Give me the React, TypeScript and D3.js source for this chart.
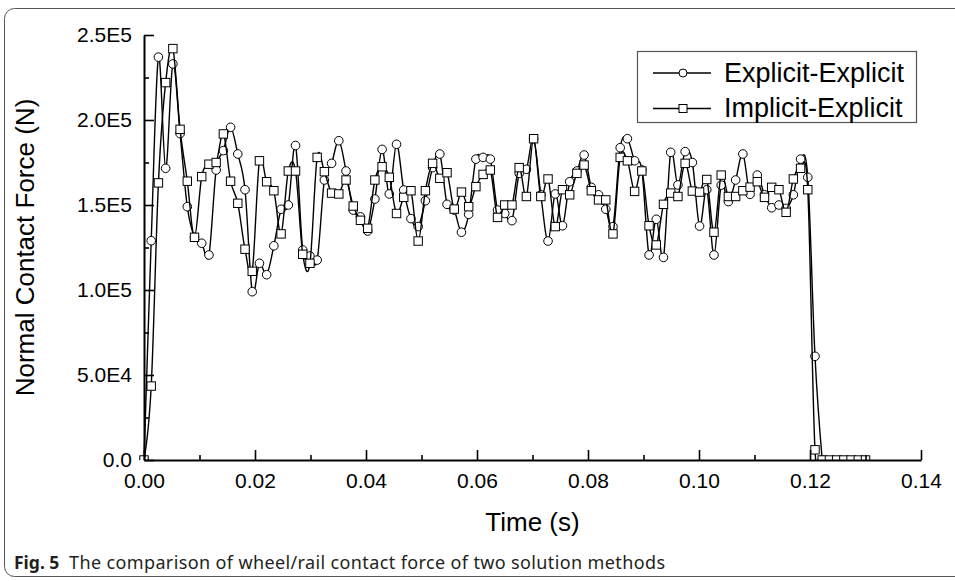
import React, { useEffect, useRef } from "react";
import * as d3 from "d3";

// sample times (s), shared by both series
const time = [
  0, 0.0013, 0.0026, 0.0039, 0.0052, 0.0065, 0.0078, 0.0091, 0.0104, 0.0117,
  0.013, 0.0143, 0.0156, 0.0169, 0.0182, 0.0195, 0.0208, 0.0221, 0.0234, 0.0247,
  0.026, 0.0273, 0.0286, 0.0299, 0.0312, 0.0325, 0.0338, 0.0351, 0.0364, 0.0377,
  0.039, 0.0403, 0.0416, 0.0429, 0.0442, 0.0455, 0.0468, 0.0481, 0.0494, 0.0507,
  0.052, 0.0533, 0.0546, 0.0559, 0.0572, 0.0585, 0.0598, 0.0611, 0.0624, 0.0637,
  0.065, 0.0663, 0.0676, 0.0689, 0.0702, 0.0715, 0.0728, 0.0741, 0.0754, 0.0767,
  0.078, 0.0793, 0.0806, 0.0819, 0.0832, 0.0845, 0.0858, 0.0871, 0.0884, 0.0897,
  0.091, 0.0923, 0.0936, 0.0949, 0.0962, 0.0975, 0.0988, 0.1001, 0.1014, 0.1027,
  0.104, 0.1053, 0.1066, 0.1079, 0.1092, 0.1105, 0.1118, 0.1131, 0.1144, 0.1157,
  0.117, 0.1183, 0.1196, 0.1209, 0.1222, 0.1235, 0.1248, 0.1261, 0.1274, 0.1287,
  0.13,
];

// Explicit-Explicit normal contact force (N)
const explicitExplicit = [
  0, 129000, 237000, 171600, 233000, 192000, 149000, 131000, 127500, 120600,
  170600, 182000, 195700, 180000, 159000, 99000, 115700, 109000, 126000, 147500,
  150000, 185000, 123500, 120000, 117600, 164700, 174500, 187800, 170000, 147000,
  143000, 134700, 153500, 182700, 156500, 185700, 158800, 142000, 137300, 152500,
  172000, 180000, 150400, 147000, 134000, 144500, 177000, 178000, 177000, 147000,
  145000, 140800, 168600, 171000, 189000, 156000, 128800, 156500, 137800, 163700,
  170000, 179400, 160400, 156000, 147500, 137300, 183700, 189000, 176000, 170600,
  120600, 141600, 119200, 181000, 161800, 181400, 175000, 137600, 159000, 120600,
  161700, 152000, 164700, 180000, 156300, 167600, 156000, 148400, 150000, 148000,
  156000, 177000, 166300, 61000, 0,
];

// Implicit-Explicit normal contact force (N)
const implicitExplicit = [
  0, 43500, 163000, 222000, 242000, 194500, 164000, 131000, 166700, 174000,
  175000, 191800, 164000, 151000, 124000, 111000, 176000, 163700, 158400, 133000,
  170000, 170000, 121000, 115700, 178000, 169600, 157000, 156500, 164700, 149400,
  141000, 136300, 164700, 172500, 166300, 145000, 154500, 158400, 128800, 158400,
  174500, 165700, 169000, 147600, 157600, 149000, 160800, 168000, 170600, 142700,
  150000, 150000, 172000, 155000, 189000, 155000, 165300, 137300, 159000, 156000,
  168600, 173500, 158400, 153000, 153000, 133000, 178000, 176000, 158000, 170000,
  137800, 126500, 150400, 157000, 155000, 174500, 158200, 157600, 165000, 134000,
  167600, 155000, 155000, 158400, 160500, 163700, 154500, 160400, 159000, 145700,
  165300, 171600, 159000, 6000, 0, 0, 0, 0, 0, 0,
  0,
];

const seriesNames = ["Explicit-Explicit", "Implicit-Explicit"];

const xTicks = [0, 0.02, 0.04, 0.06, 0.08, 0.1, 0.12, 0.14];
const xTickLabels = ["0.00", "0.02", "0.04", "0.06", "0.08", "0.10", "0.12", "0.14"];
const xMinorTicks = [0.01, 0.03, 0.05, 0.07, 0.09, 0.11, 0.13];
const yTicks = [0, 50000, 100000, 150000, 200000, 250000];
const yTickLabels = ["0.0", "5.0E4", "1.0E5", "1.5E5", "2.0E5", "2.5E5"];
const yMinorTicks = [25000, 75000, 125000, 175000, 225000];

const FONT = "'Liberation Sans', Arial, Helvetica, sans-serif";

const App: React.FC = () => {
  const svgRef = useRef<SVGSVGElement>(null);
  const width = 955;
  const height = 581;
  const plot = { left: 144, right: 921, top: 35, bottom: 460 };

  useEffect(() => {
    if (!svgRef.current) return;
    const svg = d3.select(svgRef.current);
    svg.selectAll("*").remove();

    // figure frame
    svg
      .append("rect")
      .attr("x", 4.5)
      .attr("y", 8.5)
      .attr("width", 980)
      .attr("height", 568)
      .attr("rx", 10)
      .attr("fill", "none")
      .attr("stroke", "#555")
      .attr("stroke-width", 1);

    const x = d3.scaleLinear().domain([0, 0.14]).range([plot.left, plot.right]);
    const y = d3.scaleLinear().domain([0, 250000]).range([plot.bottom, plot.top]);

    svg
      .append("clipPath")
      .attr("id", "plot-clip")
      .append("rect")
      .attr("x", plot.left - 6)
      .attr("y", plot.top - 10)
      .attr("width", plot.right - plot.left + 12)
      .attr("height", plot.bottom - plot.top + 10);

    const g = svg.append("g").attr("clip-path", "url(#plot-clip)");

    const line = d3
      .line<number>()
      .x((d, i) => x(time[i]))
      .y((d) => y(d))
      .curve(d3.curveCatmullRom.alpha(0));

    // Explicit-Explicit: line + circles
    g.append("path")
      .datum(explicitExplicit)
      .attr("d", line)
      .attr("fill", "none")
      .attr("stroke", "#000")
      .attr("stroke-width", 1.4);

    g.selectAll("circle.ee")
      .data(explicitExplicit)
      .join("circle")
      .attr("class", "ee")
      .attr("cx", (d, i) => x(time[i]))
      .attr("cy", (d) => y(d))
      .attr("r", 4.3)
      .attr("fill", "#fff")
      .attr("stroke", "#000")
      .attr("stroke-width", 1);

    // Implicit-Explicit: line + squares
    g.append("path")
      .datum(implicitExplicit)
      .attr("d", line)
      .attr("fill", "none")
      .attr("stroke", "#000")
      .attr("stroke-width", 1.4);

    g.selectAll("rect.ie")
      .data(implicitExplicit)
      .join("rect")
      .attr("class", "ie")
      .attr("x", (d, i) => x(time[i]) - 4.2)
      .attr("y", (d) => y(d) - 4.2)
      .attr("width", 8.4)
      .attr("height", 8.4)
      .attr("fill", "#fff")
      .attr("stroke", "#000")
      .attr("stroke-width", 1);

    // axes, ticks pointing inward
    const xAxis = svg
      .append("g")
      .attr("transform", `translate(0,${plot.bottom})`)
      .call(
        d3
          .axisBottom(x)
          .tickValues(xTicks)
          .tickFormat((d, i) => xTickLabels[i])
          .tickSize(-10)
          .tickSizeOuter(0)
          .tickPadding(13)
      );
    svg
      .append("g")
      .attr("transform", `translate(0,${plot.bottom})`)
      .call(d3.axisBottom(x).tickValues(xMinorTicks).tickFormat(() => "").tickSize(-5).tickSizeOuter(0))
      .select(".domain")
      .remove();

    const yAxis = svg
      .append("g")
      .attr("transform", `translate(${plot.left},0)`)
      .call(
        d3
          .axisLeft(y)
          .tickValues(yTicks)
          .tickFormat((d, i) => yTickLabels[i])
          .tickSize(-10)
          .tickSizeOuter(0)
          .tickPadding(12)
      );
    svg
      .append("g")
      .attr("transform", `translate(${plot.left},0)`)
      .call(d3.axisLeft(y).tickValues(yMinorTicks).tickFormat(() => "").tickSize(-5).tickSizeOuter(0))
      .select(".domain")
      .remove();

    [xAxis, yAxis].forEach((a) => {
      a.select(".domain").attr("stroke-width", 2);
      a.selectAll("text").attr("font-family", FONT).attr("font-size", 21).attr("fill", "#000");
    });
    svg.selectAll(".tick line").attr("stroke-width", 1.6);

    // axis titles
    svg
      .append("text")
      .attr("x", (plot.left + plot.right) / 2)
      .attr("y", 531)
      .attr("text-anchor", "middle")
      .attr("font-family", FONT)
      .attr("font-size", 26)
      .text("Time (s)");

    svg
      .append("text")
      .attr("transform", `translate(34,${(plot.top + plot.bottom) / 2}) rotate(-90)`)
      .attr("text-anchor", "middle")
      .attr("font-family", FONT)
      .attr("font-size", 26)
      .text("Normal Contact Force (N)");

    // legend
    const legend = svg.append("g");
    legend
      .append("rect")
      .attr("x", 637.5)
      .attr("y", 51.5)
      .attr("width", 279)
      .attr("height", 71)
      .attr("fill", "#fff")
      .attr("stroke", "#555")
      .attr("stroke-width", 1.2);

    seriesNames.forEach((name, i) => {
      const ly = 73 + i * 35.5;
      legend
        .append("line")
        .attr("x1", 653)
        .attr("x2", 711)
        .attr("y1", ly)
        .attr("y2", ly)
        .attr("stroke", "#000")
        .attr("stroke-width", 1.4);
      if (i === 0) {
        legend
          .append("circle")
          .attr("cx", 683)
          .attr("cy", ly)
          .attr("r", 4)
          .attr("fill", "#fff")
          .attr("stroke", "#000");
      } else {
        legend
          .append("rect")
          .attr("x", 679)
          .attr("y", ly - 4)
          .attr("width", 8)
          .attr("height", 8)
          .attr("fill", "#fff")
          .attr("stroke", "#000");
      }
      legend
        .append("text")
        .attr("x", 724)
        .attr("y", ly + 8.5)
        .attr("font-family", FONT)
        .attr("font-size", 27)
        .text(name);
    });

    // caption
    const caption = svg
      .append("text")
      .attr("y", 569)
      .attr("font-family", "'Noto Sans', 'Open Sans', sans-serif")
      .attr("fill", "#231f20");
    caption
      .append("tspan")
      .attr("x", 14)
      .attr("font-weight", "bold")
      .attr("font-size", 17.5)
      .text("Fig. 5");
    caption
      .append("tspan")
      .attr("x", 69)
      .attr("font-size", 18)
      .attr("textLength", 596)
      .attr("lengthAdjust", "spacing")
      .text("The comparison of wheel/rail contact force of two solution methods");
  }, []);

  return (
    <svg
      ref={svgRef}
      width={width}
      height={height}
      style={{ position: "absolute", left: 0, top: 0, background: "#fff" }}
    />
  );
};

export default App;
